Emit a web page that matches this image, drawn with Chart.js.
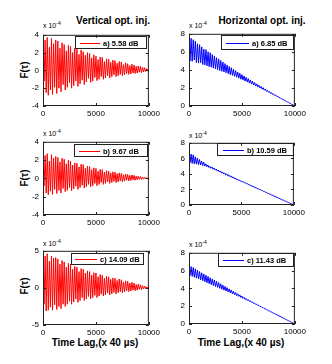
<!DOCTYPE html>
<html>
<head>
<meta charset="utf-8">
<script src="https://cdn.jsdelivr.net/npm/chart.js@4.4.1/dist/chart.umd.min.js"></script>
<style>
  body { margin: 0; width: 332px; height: 364px; background: #fff; position: relative; overflow: hidden;
         font-family: 'Liberation Sans', Arial, sans-serif; color: #000; }
  canvas { position: absolute; }
  .lbl { position: absolute; white-space: nowrap; line-height: 1; }
  .title { font-weight: bold; font-size: 10px; transform: translateX(-50%); }
  .ylab { font-weight: bold; font-size: 10px; transform: translate(-50%, -50%) rotate(-90deg); }
  .expo { font-size: 7px; }
  .expo sup { font-size: 5px; vertical-align: 3px; }
</style>
</head>
<body>

<div class="lbl title" style="left:113px; top:16px;">Vertical opt. inj.</div>
<div class="lbl title" style="left:262px; top:16px;">Horizontal opt. inj.</div>

<div class="lbl ylab" style="left:25px; top:70px;">F(τ)</div>
<div class="lbl ylab" style="left:25px; top:178px;">F(τ)</div>
<div class="lbl ylab" style="left:25px; top:286px;">F(τ)</div>

<div class="lbl expo" style="left:43px; top:21px;">x 10<sup>-4</sup></div>
<div class="lbl expo" style="left:189px; top:21px;">x 10<sup>-4</sup></div>
<div class="lbl expo" style="left:43px; top:129px;">x 10<sup>-4</sup></div>
<div class="lbl expo" style="left:189px; top:131px;">x 10<sup>-4</sup></div>
<div class="lbl expo" style="left:43px; top:239px;">x 10<sup>-4</sup></div>
<div class="lbl expo" style="left:189px; top:240px;">x 10<sup>-4</sup></div>

<div class="lbl title" style="left:95px; top:338px;">Time Lag,(x 40 µs)</div>
<div class="lbl title" style="left:241px; top:338px;">Time Lag,(x 40 µs)</div>

<script>
// time lag samples (x 40 µs)
const LAG = [0, 100, 200, 300, 400, 500, 600, 700, 800, 900,
             1000, 1100, 1200, 1300, 1400, 1500, 1600, 1700, 1800, 1900,
             2000, 2100, 2200, 2300, 2400, 2500, 2600, 2700, 2800, 2900,
             3000, 3100, 3200, 3300, 3400, 3500, 3600, 3700, 3800, 3900,
             4000, 4100, 4200, 4300, 4400, 4500, 4600, 4700, 4800, 4900,
             5000, 5100, 5200, 5300, 5400, 5500, 5600, 5700, 5800, 5900,
             6000, 6100, 6200, 6300, 6400, 6500, 6600, 6700, 6800, 6900,
             7000, 7100, 7200, 7300, 7400, 7500, 7600, 7700, 7800, 7900,
             8000, 8100, 8200, 8300, 8400, 8500, 8600, 8700, 8800, 8900,
             9000, 9100, 9200, 9300, 9400, 9500, 9600, 9700, 9800, 9900, 10000];

// vertical optical injection, F(τ) x 1e-4
const VERT_A = [3.8, -1.2, 3.4, -2.5, 3.7, -2.8, 2.6, -2.2, 3.6, -2.7,
                3.0, -1.9, 3.4, -2.6, 3.3, -2.0, 2.5, -2.4, 3.1, -1.6,
                2.9, -2.2, 2.2, -1.9, 2.8, -1.4, 2.7, -2.0, 2.0, -1.7,
                2.5, -1.2, 2.4, -1.8, 1.8, -1.5, 2.3, -1.1, 2.1, -1.6,
                1.7, -1.3, 2.0, -0.9, 1.9, -1.35, 1.4, -1.2, 1.75, -0.8,
                1.6, -1.15, 1.2, -1.0, 1.5, -0.7, 1.45, -1.0, 1.0, -0.85,
                1.3, -0.6, 1.25, -0.85, 0.9, -0.7, 1.15, -0.5, 1.1, -0.7,
                0.8, -0.6, 1.0, -0.45, 0.95, -0.6, 0.65, -0.5, 0.85, -0.35,
                0.75, -0.45, 0.55, -0.4, 0.7, -0.3, 0.6, -0.35, 0.45, -0.3,
                0.5, -0.2, 0.45, -0.25, 0.35, -0.18, 0.3, -0.12, 0.2, -0.08, 0.1];
const VERT_B = [2.8, -0.8, 2.5, -1.6, 2.7, -1.8, 1.9, -1.4, 2.6, -1.75,
                2.2, -1.2, 2.4, -1.65, 2.3, -1.3, 1.8, -1.6, 2.2, -1.1,
                2.1, -1.45, 1.6, -1.3, 2.0, -1.0, 1.9, -1.35, 1.45, -1.15,
                1.7, -0.85, 1.65, -1.2, 1.25, -1.0, 1.55, -0.75, 1.5, -1.05,
                1.1, -0.9, 1.35, -0.65, 1.3, -0.9, 0.95, -0.8, 1.15, -0.55,
                1.1, -0.8, 0.8, -0.65, 1.0, -0.45, 0.95, -0.65, 0.7, -0.55,
                0.85, -0.4, 0.8, -0.55, 0.6, -0.45, 0.72, -0.32, 0.68, -0.45,
                0.5, -0.38, 0.6, -0.27, 0.55, -0.36, 0.4, -0.3, 0.48, -0.2,
                0.45, -0.28, 0.32, -0.22, 0.38, -0.15, 0.33, -0.2, 0.24, -0.15,
                0.25, -0.1, 0.2, -0.12, 0.15, -0.08, 0.12, -0.06, 0.08, -0.03, 0.05];
const VERT_C = [4.7, -2.2, 4.3, -3.1, 4.6, -3.0, 3.6, -2.6, 4.3, -3.0,
                4.0, -2.3, 4.1, -2.9, 3.9, -2.5, 3.2, -2.8, 3.7, -2.2,
                3.5, -2.5, 2.8, -2.2, 3.3, -1.8, 3.2, -2.2, 2.5, -1.9,
                2.9, -1.5, 2.8, -1.95, 2.2, -1.7, 2.6, -1.3, 2.5, -1.7,
                2.0, -1.5, 2.3, -1.15, 2.2, -1.45, 1.7, -1.3, 2.05, -1.0,
                2.0, -1.3, 1.5, -1.1, 1.8, -0.85, 1.7, -1.1, 1.3, -0.95,
                1.6, -0.7, 1.5, -0.95, 1.15, -0.8, 1.35, -0.6, 1.3, -0.8,
                1.0, -0.65, 1.2, -0.5, 1.1, -0.65, 0.8, -0.55, 0.95, -0.4,
                0.9, -0.5, 0.65, -0.42, 0.75, -0.3, 0.65, -0.38, 0.45, -0.3,
                0.5, -0.2, 0.42, -0.22, 0.3, -0.15, 0.25, -0.1, 0.15, -0.06, 0.1];

// horizontal optical injection, F(τ) x 1e-4
const HORIZ_A = [7.8, 5.0, 7.5, 4.95, 7.35, 5.1, 7.2, 4.8, 6.9, 4.75,
                 6.8, 4.8, 6.55, 4.6, 6.3, 4.55, 6.25, 4.45, 6.0, 4.36,
                 5.9, 4.3, 5.7, 4.2, 5.55, 4.1, 5.35, 4.02, 5.22, 3.92,
                 5.05, 3.85, 4.88, 3.76, 4.7, 3.68, 4.55, 3.58, 4.38, 3.48,
                 4.24, 3.39, 4.07, 3.29, 3.92, 3.19, 3.77, 3.08, 3.63, 2.97,
                 3.48, 2.87, 3.33, 2.76, 3.18, 2.65, 3.03, 2.54, 2.89, 2.43,
                 2.75, 2.32, 2.6, 2.21, 2.45, 2.1, 2.31, 1.99, 2.17, 1.87,
                 2.03, 1.76, 1.88, 1.64, 1.74, 1.52, 1.61, 1.4, 1.47, 1.28,
                 1.34, 1.16, 1.2, 1.04, 1.07, 0.92, 0.93, 0.8, 0.8, 0.68,
                 0.66, 0.56, 0.53, 0.43, 0.4, 0.31, 0.27, 0.18, 0.14, 0.06, 0];
const HORIZ_B = [6.75, 5.45, 6.55, 5.35, 6.45, 5.3, 6.2, 5.25, 6.05, 5.2,
                 5.85, 5.15, 5.65, 5.08, 5.5, 5.0, 5.3, 4.92, 5.14, 4.82,
                 4.98, 4.72, 4.88, 4.6, 4.76, 4.48, 4.62, 4.36, 4.5, 4.24,
                 4.38, 4.1, 4.26, 3.99, 4.13, 3.87, 4.0, 3.75, 3.88, 3.63,
                 3.74, 3.52, 3.61, 3.41, 3.48, 3.3, 3.35, 3.18, 3.22, 3.06,
                 3.09, 2.95, 2.97, 2.83, 2.85, 2.71, 2.72, 2.59, 2.6, 2.47,
                 2.47, 2.35, 2.35, 2.23, 2.23, 2.11, 2.1, 1.99, 1.98, 1.87,
                 1.86, 1.75, 1.73, 1.63, 1.61, 1.51, 1.48, 1.39, 1.36, 1.27,
                 1.23, 1.15, 1.11, 1.03, 0.99, 0.91, 0.86, 0.78, 0.74, 0.66,
                 0.62, 0.54, 0.5, 0.42, 0.37, 0.3, 0.25, 0.18, 0.12, 0.06, 0];
const HORIZ_C = [6.6, 5.45, 6.45, 5.35, 6.35, 5.25, 6.2, 5.15, 6.05, 5.05,
                 5.9, 4.95, 5.75, 4.85, 5.62, 4.75, 5.48, 4.64, 5.34, 4.53,
                 5.2, 4.42, 5.07, 4.32, 4.94, 4.21, 4.8, 4.11, 4.66, 4.01,
                 4.52, 3.9, 4.37, 3.8, 4.23, 3.7, 4.09, 3.6, 3.95, 3.5,
                 3.82, 3.39, 3.68, 3.29, 3.54, 3.19, 3.4, 3.09, 3.27, 2.98,
                 3.14, 2.87, 3.0, 2.76, 2.87, 2.65, 2.74, 2.54, 2.61, 2.43,
                 2.48, 2.31, 2.35, 2.2, 2.22, 2.08, 2.1, 1.97, 1.97, 1.85,
                 1.85, 1.73, 1.72, 1.61, 1.59, 1.49, 1.47, 1.37, 1.35, 1.25,
                 1.23, 1.13, 1.1, 1.02, 0.98, 0.9, 0.86, 0.78, 0.74, 0.66,
                 0.61, 0.54, 0.49, 0.42, 0.37, 0.3, 0.25, 0.18, 0.12, 0.06, 0];

const LEGEND_LABELS = ['a) 5.58 dB', 'a) 6.85 dB', 'b) 9.67 dB', 'b) 10.59 dB', 'c) 14.09 dB', 'c) 11.43 dB'];
const X_TICKS = [0, 5000, 10000];
const Y_RANGE_LEFT = [-4, 4, 2];
const Y_RANGE_LEFT_C = [-5, 5, 5];
const Y_RANGE_RIGHT = [0, 8, 2];

const RED = '#ff0000';
const BLUE = '#0000ff';

// page layout: plot box [left, top, right, bottom], legend box and sample line
const PANELS = [
  { values: VERT_A,  label: LEGEND_LABELS[0], color: RED,  range: Y_RANGE_LEFT,   box: [43, 32, 149, 106],  legend: [75, 36, 147, 49],   sample: [80, 100] },
  { values: HORIZ_A, label: LEGEND_LABELS[1], color: BLUE, range: Y_RANGE_RIGHT,  box: [189, 31, 295, 106], legend: [221, 35, 294, 50],  sample: [226, 249] },
  { values: VERT_B,  label: LEGEND_LABELS[2], color: RED,  range: Y_RANGE_LEFT,   box: [43, 139, 149, 215], legend: [74, 144, 148, 157], sample: [79, 100] },
  { values: HORIZ_B, label: LEGEND_LABELS[3], color: BLUE, range: Y_RANGE_RIGHT,  box: [189, 140, 294, 205], legend: [217, 143, 294, 156], sample: [223, 244] },
  { values: VERT_C,  label: LEGEND_LABELS[4], color: RED,  range: Y_RANGE_LEFT_C, box: [43, 248, 149, 325], legend: [71, 253, 144, 265], sample: [75, 97] },
  { values: HORIZ_C, label: LEGEND_LABELS[5], color: BLUE, range: Y_RANGE_RIGHT,  box: [189, 250, 295, 324], legend: [218, 253, 294, 267], sample: [223, 244] },
];

const PAD_L = 18, PAD_T = 6, PAD_R = 14, PAD_B = 14;

Chart.defaults.font.family = "'Liberation Sans', Arial, sans-serif";
Chart.defaults.font.size = 8;
Chart.defaults.color = '#000';

// matlab style box with inward ticks on all four sides
const framePlugin = {
  id: 'frame',
  afterDraw(chart) {
    const { ctx, chartArea: { left, top, right, bottom }, scales: { x, y } } = chart;
    ctx.save();
    ctx.strokeStyle = '#222';
    ctx.lineWidth = 1;
    ctx.strokeRect(left + 0.5, top + 0.5, right - left - 1, bottom - top - 1);
    ctx.beginPath();
    x.ticks.forEach(t => {
      const px = Math.round(x.getPixelForValue(t.value)) + 0.5;
      ctx.moveTo(px, bottom); ctx.lineTo(px, bottom - 3);
      ctx.moveTo(px, top); ctx.lineTo(px, top + 3);
    });
    y.ticks.forEach(t => {
      const py = Math.round(y.getPixelForValue(t.value)) + 0.5;
      ctx.moveTo(left, py); ctx.lineTo(left + 3, py);
      ctx.moveTo(right, py); ctx.lineTo(right - 3, py);
    });
    ctx.stroke();
    ctx.restore();
  },
};

const boxLegendPlugin = {
  id: 'boxLegend',
  afterDatasetsDraw(chart, args, opts) {
    const { ctx } = chart;
    const [x0, y0, x1, y1] = opts.rect.map((v, i) => v - (i % 2 ? opts.origin[1] : opts.origin[0]));
    const [s0, s1] = opts.sample.map(v => v - opts.origin[0]);
    const cy = Math.round((y0 + y1) / 2) + 0.5;
    ctx.save();
    ctx.fillStyle = '#fff';
    ctx.fillRect(x0, y0, x1 - x0, y1 - y0);
    ctx.strokeStyle = '#222';
    ctx.lineWidth = 1;
    ctx.strokeRect(x0 + 0.5, y0 + 0.5, x1 - x0 - 1, y1 - y0 - 1);
    ctx.strokeStyle = chart.data.datasets[0].borderColor;
    ctx.beginPath();
    ctx.moveTo(s0, cy); ctx.lineTo(s1, cy);
    ctx.stroke();
    ctx.fillStyle = '#000';
    ctx.font = "bold 7.5px 'Liberation Sans', Arial, sans-serif";
    ctx.textBaseline = 'middle';
    ctx.fillText(chart.data.datasets[0].label, s1 + 3, cy);
    ctx.restore();
  },
};

PANELS.forEach(p => {
  const [left, top, right, bottom] = p.box;
  const canvas = document.createElement('canvas');
  canvas.width = right - left + PAD_L + PAD_R;
  canvas.height = bottom - top + PAD_T + PAD_B;
  canvas.style.left = (left - PAD_L) + 'px';
  canvas.style.top = (top - PAD_T) + 'px';
  document.body.appendChild(canvas);

  const [ymin, ymax, ystep] = p.range;

  new Chart(canvas.getContext('2d'), {
    type: 'line',
    plugins: [boxLegendPlugin, framePlugin],
    data: {
      datasets: [{
        label: p.label,
        data: LAG.map((lag, i) => ({ x: lag, y: p.values[i] })),
        borderColor: p.color,
        borderWidth: 1,
        pointRadius: 0,
        tension: 0,
        fill: false,
      }],
    },
    options: {
      responsive: false,
      animation: false,
      layout: { padding: { left: 0, top: PAD_T, right: PAD_R, bottom: 0 } },
      plugins: {
        legend: { display: false },
        tooltip: { enabled: false },
        boxLegend: { rect: p.legend, sample: p.sample, origin: [left - PAD_L, top - PAD_T] },
      },
      scales: {
        x: {
          type: 'linear',
          min: 0, max: 10000,
          afterBuildTicks: axis => { axis.ticks = X_TICKS.map(v => ({ value: v })); },
          afterFit: axis => { axis.height = PAD_B; },
          grid: { display: false, drawTicks: false },
          border: { display: false },
          ticks: { padding: 3, maxRotation: 0, autoSkip: false, callback: v => String(v) },
        },
        y: {
          min: ymin, max: ymax,
          ticks: { stepSize: ystep, padding: 4, callback: v => String(v) },
          afterFit: axis => { axis.width = PAD_L; },
          grid: { display: false, drawTicks: false },
          border: { display: false },
        },
      },
    },
  });
});
</script>
</body>
</html>
